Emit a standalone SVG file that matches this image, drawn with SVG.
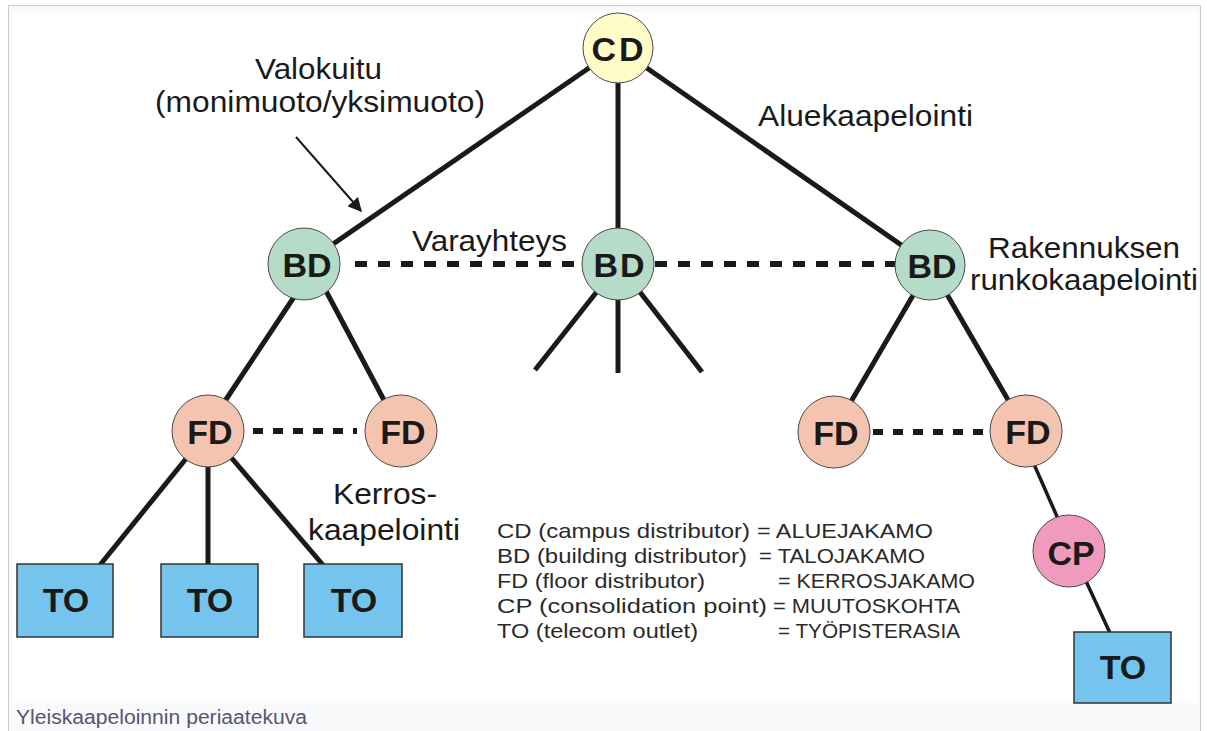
<svg xmlns="http://www.w3.org/2000/svg" width="1207" height="731" viewBox="0 0 1207 731">
  <defs>
    <style>
      .frame { fill: #f8f9fa; stroke: #c8ccd1; stroke-width: 1; }
      .edge { stroke: #1a1a1a; stroke-width: 5; stroke-linecap: butt; fill: none; }
      .thin { stroke: #1a1a1a; stroke-width: 3.5; fill: none; }
      .dash-bd { stroke: #1a1a1a; stroke-width: 6; stroke-dasharray: 12 11; fill: none; }
      .dash-fd { stroke: #1a1a1a; stroke-width: 6; stroke-dasharray: 10 10; fill: none; }
      .pointer { stroke: #1a1a1a; stroke-width: 2; fill: none; }
      .node { stroke: #4a4a4a; stroke-width: 1; }
      .cd { fill: #fffcc8; }
      .bd { fill: #b4dcc8; }
      .fd { fill: #f5c4b0; }
      .cp { fill: #f09bbe; }
      .to { fill: #74c4ee; stroke: #333333; stroke-width: 1.5; }
      .lbl { font-family: "Liberation Sans", Arial, sans-serif; font-weight: bold; font-size: 34px; fill: #1a1a1a; text-anchor: middle; }
      .note { font-family: "Liberation Sans", Arial, sans-serif; font-size: 29px; fill: #1a1a1a; }
      .legend { font-family: "Liberation Sans", Arial, sans-serif; font-size: 21px; fill: #2a2a2a; }
      .caption { font-family: "Liberation Sans", Arial, sans-serif; font-size: 20px; fill: #575570; }
    </style>
    <marker id="arrowhead" viewBox="0 0 10 10" refX="9" refY="5" markerWidth="7" markerHeight="7" orient="auto" markerUnits="strokeWidth">
      <path d="M0,0 L10,5 L0,10 z" fill="#1a1a1a"/>
    </marker>
  </defs>

  <!-- page frame and caption strip -->
  <rect class="frame" x="8.5" y="5.5" width="1192" height="740"/>
  <rect x="12" y="12" width="1186" height="691" fill="#ffffff"/>
  <text class="caption" x="16" y="724" textLength="291" lengthAdjust="spacingAndGlyphs">Yleiskaapeloinnin periaatekuva</text>

  <!-- cabling links -->
  <g id="connectors">
    <line class="edge" x1="618" y1="48" x2="304" y2="264"/>
    <line class="edge" x1="618" y1="48" x2="618" y2="264"/>
    <line class="edge" x1="618" y1="48" x2="930" y2="265"/>

    <line class="edge" x1="296" y1="294" x2="223" y2="404"/>
    <line class="edge" x1="326" y1="291" x2="385" y2="402"/>

    <line class="edge" x1="599" y1="289" x2="535" y2="370"/>
    <line class="edge" x1="618" y1="280" x2="618" y2="373"/>
    <line class="edge" x1="636" y1="287" x2="702" y2="372"/>

    <line class="edge" x1="915" y1="292" x2="849" y2="405"/>
    <line class="edge" x1="945" y1="291" x2="1011" y2="405"/>

    <line class="edge" x1="189" y1="455" x2="100" y2="565"/>
    <line class="edge" x1="208" y1="440" x2="208" y2="565"/>
    <line class="edge" x1="229" y1="455" x2="323" y2="565"/>

    <line class="thin" x1="1033" y1="462" x2="1059" y2="521"/>
    <line class="thin" x1="1085" y1="579" x2="1110" y2="633"/>

    <!-- backup links -->
    <line class="dash-bd" x1="355" y1="264" x2="583" y2="264"/>
    <line class="dash-bd" x1="655" y1="264" x2="896" y2="264"/>
    <line class="dash-fd" x1="253" y1="431" x2="357" y2="431"/>
    <line class="dash-fd" x1="873" y1="432" x2="991" y2="432"/>

    <!-- fibre pointer -->
    <line class="pointer" x1="296" y1="137" x2="361" y2="211" marker-end="url(#arrowhead)"/>
  </g>

  <g id="cd">
    <circle class="node cd" cx="618" cy="48" r="35"/>
    <text class="lbl" x="619" y="61" letter-spacing="3">CD</text>
  </g>
  <g id="bd-left">
    <circle class="node bd" cx="304" cy="264" r="36"/>
    <text class="lbl" x="307" y="277">BD</text>
  </g>
  <g id="bd-middle">
    <circle class="node bd" cx="618" cy="264" r="36"/>
    <text class="lbl" x="620" y="277" letter-spacing="2">BD</text>
  </g>
  <g id="bd-right">
    <circle class="node bd" cx="930" cy="265" r="35"/>
    <text class="lbl" x="932" y="278">BD</text>
  </g>
  <g id="fd-left-1">
    <circle class="node fd" cx="208" cy="431" r="36"/>
    <text class="lbl" x="210" y="444">FD</text>
  </g>
  <g id="fd-left-2">
    <circle class="node fd" cx="401" cy="431" r="36"/>
    <text class="lbl" x="403" y="444">FD</text>
  </g>
  <g id="fd-right-1">
    <circle class="node fd" cx="834" cy="432" r="36"/>
    <text class="lbl" x="836" y="445">FD</text>
  </g>
  <g id="fd-right-2">
    <circle class="node fd" cx="1026" cy="431" r="36"/>
    <text class="lbl" x="1028" y="444">FD</text>
  </g>
  <g id="cp">
    <circle class="node cp" cx="1069" cy="551" r="36"/>
    <text class="lbl" x="1071" y="565">CP</text>
  </g>
  <g id="to-1">
    <rect class="to" x="17" y="564" width="96" height="73"/>
    <text class="lbl" x="66" y="612">TO</text>
  </g>
  <g id="to-2">
    <rect class="to" x="161" y="564" width="97" height="73"/>
    <text class="lbl" x="210" y="612">TO</text>
  </g>
  <g id="to-3">
    <rect class="to" x="304" y="564" width="98" height="73"/>
    <text class="lbl" x="354" y="612">TO</text>
  </g>
  <g id="to-4">
    <rect class="to" x="1074" y="632" width="97" height="71"/>
    <text class="lbl" x="1123" y="679">TO</text>
  </g>

  <!-- annotations -->
  <g id="labels">
    <text class="note" x="255" y="79" textLength="127" lengthAdjust="spacingAndGlyphs">Valokuitu</text>
    <text class="note" x="155" y="112" textLength="330" lengthAdjust="spacingAndGlyphs">(monimuoto/yksimuoto)</text>
    <text class="note" x="758" y="126" textLength="215" lengthAdjust="spacingAndGlyphs">Aluekaapelointi</text>
    <text class="note" x="412" y="251" textLength="155" lengthAdjust="spacingAndGlyphs">Varayhteys</text>
    <text class="note" x="988" y="258" textLength="192" lengthAdjust="spacingAndGlyphs">Rakennuksen</text>
    <text class="note" x="970" y="290" textLength="228" lengthAdjust="spacingAndGlyphs">runkokaapelointi</text>
    <text class="note" x="333" y="504" textLength="104" lengthAdjust="spacingAndGlyphs">Kerros-</text>
    <text class="note" x="308" y="540" textLength="152" lengthAdjust="spacingAndGlyphs">kaapelointi</text>
  </g>

  <!-- abbreviation key -->
  <g id="legend">
    <text class="legend" x="497" y="538" textLength="253" lengthAdjust="spacingAndGlyphs">CD (campus distributor)</text>
    <text class="legend" x="757" y="538" textLength="176" lengthAdjust="spacingAndGlyphs">= ALUEJAKAMO</text>
    <text class="legend" x="497" y="563" textLength="250" lengthAdjust="spacingAndGlyphs">BD (building distributor)</text>
    <text class="legend" x="759" y="563" textLength="166" lengthAdjust="spacingAndGlyphs">= TALOJAKAMO</text>
    <text class="legend" x="497" y="588" textLength="208" lengthAdjust="spacingAndGlyphs">FD (floor distributor)</text>
    <text class="legend" x="778" y="588" textLength="197" lengthAdjust="spacingAndGlyphs">= KERROSJAKAMO</text>
    <text class="legend" x="497" y="613" textLength="270" lengthAdjust="spacingAndGlyphs">CP (consolidation point)</text>
    <text class="legend" x="773" y="613" textLength="187" lengthAdjust="spacingAndGlyphs">= MUUTOSKOHTA</text>
    <text class="legend" x="497" y="638" textLength="201" lengthAdjust="spacingAndGlyphs">TO (telecom outlet)</text>
    <text class="legend" x="778" y="638" textLength="182" lengthAdjust="spacingAndGlyphs">= TYÖPISTERASIA</text>
  </g>
</svg>
